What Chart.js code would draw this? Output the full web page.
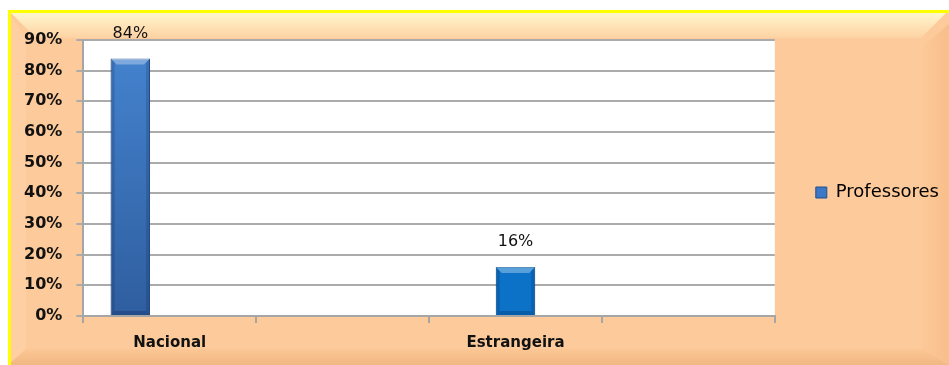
<!DOCTYPE html>
<html>
<head>
<meta charset="utf-8">
<script src="https://cdn.jsdelivr.net/npm/chart.js@4.4.1/dist/chart.umd.min.js"></script>
<style>
  html, body { margin: 0; padding: 0; background: #fff; }
  #wrap { width: 949px; height: 365px; }
</style>
</head>
<body>
<div id="wrap"><canvas id="myChart" width="949" height="365"></canvas></div>
<script>
// categories (the two blank ones are empty columns in the sheet)
const categorias = ['Nacional', '', 'Estrangeira', ''];
// percentages per origin
const nacional    = [84, null, null, null];
const estrangeira = [null, null, 16, null];
const vazio       = [null, null, null, null]; // unused third column, keeps the slot width
const yTicks = [0, 10, 20, 30, 40, 50, 60, 70, 80, 90];

Chart.defaults.font.family = 'DejaVu Sans';

// peach frame with bevelled edges and yellow border, white plot area
const moldura = {
    id: 'moldura',
    beforeDraw(chart) {
        const ctx = chart.ctx;
        const x0 = 8, y0 = 10, x1 = chart.width, y1 = chart.height, b = 28;
        ctx.save();
        ctx.fillStyle = '#fff';
        ctx.fillRect(0, 0, chart.width, chart.height);
        ctx.fillStyle = '#FDCB9B';
        ctx.fillRect(x0, y0, x1 - x0, y1 - y0);

        // top bevel
        let g = ctx.createLinearGradient(0, y0, 0, y0 + b + 4);
        g.addColorStop(0, '#FFFBD2');
        g.addColorStop(1, '#FDCC9C');
        ctx.fillStyle = g;
        ctx.beginPath();
        ctx.moveTo(x0, y0); ctx.lineTo(x1, y0); ctx.lineTo(x1 - b, y0 + b); ctx.lineTo(x0 + b, y0 + b);
        ctx.closePath(); ctx.fill();

        // left bevel
        ctx.fillStyle = '#FDCFA2';
        ctx.beginPath();
        ctx.moveTo(x0, y0 + 2); ctx.lineTo(x0 + 18, y0 + b); ctx.lineTo(x0 + 18, y1 - 16); ctx.lineTo(x0, y1);
        ctx.closePath(); ctx.fill();

        // right bevel
        g = ctx.createLinearGradient(x1 - 26, 0, x1, 0);
        g.addColorStop(0, '#FDC897');
        g.addColorStop(1, '#F8BE8B');
        ctx.fillStyle = g;
        ctx.beginPath();
        ctx.moveTo(x1, y0 + 14); ctx.lineTo(x1 - 26, y0 + 36); ctx.lineTo(x1 - 26, y1 - 16); ctx.lineTo(x1, y1);
        ctx.closePath(); ctx.fill();

        // bottom bevel
        g = ctx.createLinearGradient(0, y1 - 16, 0, y1);
        g.addColorStop(0, '#FBC794');
        g.addColorStop(1, '#F1B784');
        ctx.fillStyle = g;
        ctx.beginPath();
        ctx.moveTo(x0, y1); ctx.lineTo(x0 + 18, y1 - 16); ctx.lineTo(x1 - 26, y1 - 16); ctx.lineTo(x1, y1);
        ctx.closePath(); ctx.fill();

        // yellow border
        ctx.strokeStyle = '#FFFF00';
        ctx.lineWidth = 3;
        ctx.beginPath();
        ctx.moveTo(x0 + 1.5, y1); ctx.lineTo(x0 + 1.5, y0 + 1.5); ctx.lineTo(x1, y0 + 1.5);
        ctx.stroke();

        const a = chart.chartArea;
        ctx.fillStyle = '#fff';
        ctx.fillRect(a.left, a.top, a.right - a.left, a.bottom - a.top);
        ctx.restore();
    }
};

// bevel shading on each bar plus the value label above it
const bisel = {
    id: 'bisel',
    afterDatasetsDraw(chart) {
        const ctx = chart.ctx;
        ctx.save();
        chart.data.datasets.forEach((ds, i) => {
            const meta = chart.getDatasetMeta(i);
            meta.data.forEach((bar, j) => {
                const v = ds.data[j];
                if (v === null) return;
                const l = bar.x - bar.width / 2, r = bar.x + bar.width / 2;
                const t = bar.y, bt = bar.base, b = 6, s = 4;
                // lit top face
                ctx.fillStyle = 'rgba(255,255,255,0.32)';
                ctx.beginPath();
                ctx.moveTo(l, t); ctx.lineTo(r, t); ctx.lineTo(r - b, t + b); ctx.lineTo(l + b, t + b);
                ctx.closePath(); ctx.fill();
                // shaded sides
                ctx.fillStyle = 'rgba(0,20,60,0.16)';
                ctx.beginPath();
                ctx.moveTo(l, t); ctx.lineTo(l + s, t + s); ctx.lineTo(l + s, bt - s); ctx.lineTo(l, bt);
                ctx.closePath(); ctx.fill();
                ctx.beginPath();
                ctx.moveTo(r, t); ctx.lineTo(r - s, t + s); ctx.lineTo(r - s, bt - s); ctx.lineTo(r, bt);
                ctx.closePath(); ctx.fill();
                ctx.fillStyle = 'rgba(0,20,60,0.22)';
                ctx.beginPath();
                ctx.moveTo(l, bt); ctx.lineTo(l + s, bt - s); ctx.lineTo(r - s, bt - s); ctx.lineTo(r, bt);
                ctx.closePath(); ctx.fill();

                ctx.fillStyle = '#111';
                ctx.font = '16px "DejaVu Sans"';
                ctx.textAlign = 'center';
                ctx.textBaseline = 'middle';
                ctx.fillText(v + '%', bar.x, t - 25);
            });
        });
        ctx.restore();
    }
};

// vertical shading for the tall bar
function azulNacional(context) {
    const a = context.chart.chartArea;
    if (!a) return '#3B76C2';
    const g = context.chart.ctx.createLinearGradient(0, a.top, 0, a.bottom);
    g.addColorStop(0, '#4584D0');
    g.addColorStop(1, '#2F5E9F');
    return g;
}

var ctx = document.getElementById('myChart').getContext('2d');
var chart = new Chart(ctx, {
    type: 'bar',
    data: {
        labels: categorias,
        datasets: [{
            label: 'Professores',
            data: nacional,
            backgroundColor: azulNacional,
            borderColor: '#2A5690',
            borderWidth: 1
        }, {
            label: 'Estrangeira',
            data: estrangeira,
            backgroundColor: '#0B72C8',
            borderColor: '#0A5AA0',
            borderWidth: 1
        }, {
            label: 'vazio',
            data: vazio
        }]
    },
    options: {
        responsive: false,
        animation: false,
        categoryPercentage: 0.684,
        barPercentage: 1,
        layout: { padding: { left: 10, top: 22, bottom: 2, right: 0 } },
        plugins: {
            // blank strip above the plot only (legend keeps the full height)
            title: {
                display: true,
                text: ' ',
                fullSize: false,
                padding: 0,
                font: { size: 15 }
            },
            legend: {
                position: 'right',
                labels: {
                    filter: item => item.datasetIndex === 0,
                    generateLabels: c => [{
                        text: 'Professores',
                        fillStyle: '#3B78C6',
                        strokeStyle: '#244F88',
                        lineWidth: 1,
                        datasetIndex: 0
                    }],
                    boxWidth: 11,
                    boxHeight: 11,
                    padding: 41,
                    color: '#000',
                    font: { size: 18 }
                }
            },
            tooltip: { enabled: false }
        },
        scales: {
            x: {
                grid: {
                    drawOnChartArea: false,
                    color: '#A6A6A6',
                    lineWidth: 2,
                    tickLength: 7
                },
                border: { color: '#A6A6A6', width: 2 },
                ticks: {
                    color: '#111',
                    padding: 11,
                    font: { size: 15, weight: 'bold' }
                }
            },
            y: {
                min: 0,
                max: 90,
                afterBuildTicks: axis => { axis.ticks = yTicks.map(v => ({ value: v })); },
                grid: {
                    color: '#ABABAB',
                    lineWidth: 2,
                    tickLength: 7
                },
                border: { color: '#A6A6A6', width: 2 },
                ticks: {
                    color: '#111',
                    padding: 14,
                    font: { size: 16, weight: 'bold' },
                    callback: v => v + '%'
                }
            }
        }
    },
    plugins: [moldura, bisel]
});
</script>
</body>
</html>
